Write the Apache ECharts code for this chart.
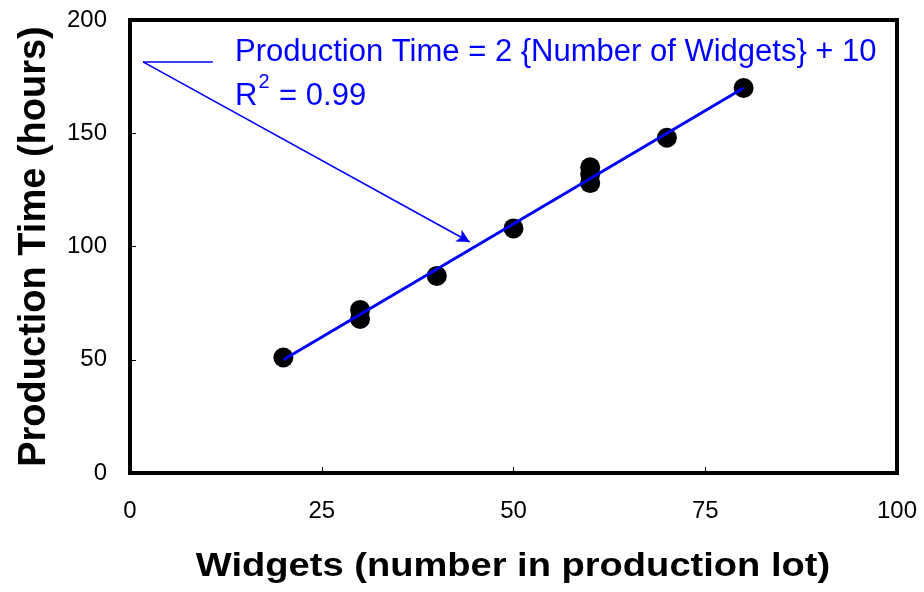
<!DOCTYPE html>
<html>
<head>
<meta charset="utf-8">
<script src="https://cdn.jsdelivr.net/npm/echarts@6/dist/echarts.min.js"></script>
<style>
  html, body { margin: 0; padding: 0; background: #fff; }
  #chart { width: 924px; height: 592px; }
</style>
</head>
<body>
<div id="chart"></div>
<script>
// Widgets per production lot and the hours each lot took
const widgets = [20, 30, 30, 40, 50, 60, 60, 60, 70, 80];
const hours   = [51, 72, 68, 87, 108, 135, 132, 128, 148, 170];

// Fitted line: hours = slope * widgets + intercept
const slope = 2;
const intercept = 10;
const fitRange = [20, 80];
const rSquared = '0.99';

// Tick labels
const xTicks = [0, 25, 50, 75, 100];
const yTicks = [0, 50, 100, 150, 200];

// Leader from the equation text to the fitted line
const leaderElbow = [1.7, 181.5];
const leaderEnd = [10.8, 181.5];
const leaderTip = [44.3, 102];

const points = widgets.map((w, i) => [w, hours[i]]);
const fitPoints = fitRange.map(x => [x, slope * x + intercept]);

const chart = echarts.init(document.getElementById('chart'));
const font = 'Liberation Sans, Arial, sans-serif';

chart.setOption({
  animation: false,
  grid: {
    left: 130, right: 27, top: 20, bottom: 119,
    containLabel: false,
    outerBoundsMode: 'none',
    show: true, borderColor: '#000', borderWidth: 4, backgroundColor: '#fff'
  },
  xAxis: {
    type: 'value', min: xTicks[0], max: xTicks[xTicks.length - 1], interval: 25,
    axisLine: { show: true, lineStyle: { color: '#000', width: 4 } },
    axisTick: { inside: true, length: 6, lineStyle: { color: '#000', width: 1 } },
    axisLabel: { fontFamily: font, fontSize: 24, color: '#000', margin: 26 },
    splitLine: { show: false }
  },
  yAxis: {
    type: 'value', min: yTicks[0], max: yTicks[yTicks.length - 1], interval: 50,
    name: 'Production Time (hours)',
    nameLocation: 'middle', nameGap: 76,
    nameTextStyle: { fontFamily: font, fontSize: 38, fontWeight: 'bold', color: '#000' },
    axisLine: { show: true, lineStyle: { color: '#000', width: 4 } },
    axisTick: { inside: true, length: 6, lineStyle: { color: '#000', width: 1 } },
    axisLabel: { fontFamily: font, fontSize: 24, color: '#000', margin: 23 },
    splitLine: { show: false }
  },
  series: [
    {
      type: 'scatter',
      data: points,
      symbol: 'circle',
      symbolSize: 20,
      itemStyle: { color: '#000', opacity: 1 },
      z: 2
    },
    {
      type: 'line',
      data: fitPoints,
      showSymbol: false,
      lineStyle: { color: '#0000ff', width: 3 },
      z: 3,
      markLine: {
        silent: true,
        animation: false,
        label: { show: false },
        lineStyle: { color: '#0000ff', width: 1.6, type: 'solid' },
        data: [
          [
            { coord: leaderEnd, symbol: 'none' },
            { coord: leaderElbow, symbol: 'none' }
          ],
          [
            { coord: leaderElbow, symbol: 'none' },
            { coord: leaderTip, symbol: 'arrow', symbolSize: [10, 13] }
          ]
        ]
      }
    }
  ],
  graphic: [
    {
      // x-axis title, set a little wide
      type: 'text', x: 513, y: 567, scaleX: 1.12,
      style: {
        text: 'Widgets (number in production lot)',
        fontFamily: font, fontSize: 34, fontWeight: 'bold', fill: '#000',
        textAlign: 'center', textVerticalAlign: 'middle'
      }
    },
    {
      type: 'text', left: 235, top: 37,
      style: {
        text: 'Production Time = ' + slope + ' {Number of Widgets} + ' + intercept,
        fontFamily: font, fontSize: 31, fill: '#0000ff'
      }
    },
    {
      type: 'text', left: 235, top: 72,
      style: {
        text: '{r|R}{sup|2}{r| = ' + rSquared + '}',
        rich: {
          r: { fontFamily: font, fontSize: 31, fill: '#0000ff', color: '#0000ff', verticalAlign: 'bottom' },
          sup: { fontFamily: font, fontSize: 20, fill: '#0000ff', color: '#0000ff', verticalAlign: 'top', padding: [0, 1, 20, 1] }
        }
      }
    }
  ]
});
</script>
</body>
</html>
